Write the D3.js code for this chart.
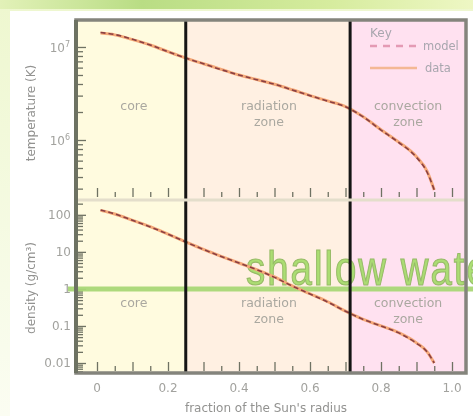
<!DOCTYPE html>
<html><head><meta charset="utf-8">
<script src="https://cdn.jsdelivr.net/npm/d3@7"></script>
<style>
html,body{margin:0;padding:0;background:#fff;}
svg{display:block;font-family:"DejaVu Sans",Verdana,sans-serif;filter:blur(0.5px);}
</style></head>
<body><div id="chart"></div>
<script>
// ---- data ----
const radius      = [0.01, 0.05, 0.1, 0.15, 0.2, 0.25, 0.3, 0.35, 0.4, 0.45, 0.5, 0.55, 0.6, 0.65, 0.7, 0.75, 0.8, 0.85, 0.9, 0.93, 0.95];
const tempData    = [1.41e7, 1.35e7, 1.2e7, 1.05e7, 8.9e6, 7.6e6, 6.6e6, 5.75e6, 5.0e6, 4.47e6, 3.98e6, 3.47e6, 3.0e6, 2.63e6, 2.29e6, 1.78e6, 1.29e6, 9.5e5, 6.6e5, 4.6e5, 2.9e5];
const tempModel   = [1.43e7, 1.36e7, 1.21e7, 1.05e7, 8.9e6, 7.6e6, 6.6e6, 5.7e6, 5.0e6, 4.45e6, 3.98e6, 3.45e6, 3.0e6, 2.62e6, 2.28e6, 1.77e6, 1.28e6, 9.4e5, 6.5e5, 4.5e5, 2.9e5];
const densData    = [132, 105, 71, 48, 30, 18.6, 11.7, 7.6, 5.0, 3.3, 2.1, 1.2, 0.74, 0.45, 0.25, 0.15, 0.10, 0.066, 0.035, 0.020, 0.010];
const densModel   = [135, 106, 71, 47, 30, 18.5, 11.6, 7.5, 5.0, 3.3, 2.05, 1.2, 0.73, 0.44, 0.25, 0.15, 0.10, 0.065, 0.034, 0.020, 0.010];
const zoneBounds  = [0.25, 0.713];
const zoneNames   = [["core"], ["radiation", "zone"], ["convection", "zone"]];
const xTicks      = [0, 0.2, 0.4, 0.6, 0.8, 1.0];
const xTickLabels = ["0", "0.2", "0.4", "0.6", "0.8", "1.0"];
const tempTicks   = [1e6, 1e7];
const tempLabels  = [["10","6"], ["10","7"]];
const densTicks   = [0.01, 0.1, 1, 10, 100];
const densLabels  = ["0.01", "0.1", "1", "10", "100"];
const legendItems = ["model", "data"];

(function(){
const W = 473, H = 416;
const svg = d3.select("#chart").append("svg").attr("width", W).attr("height", H);

const defs = svg.append("defs");
const g1 = defs.append("linearGradient").attr("id","band").attr("x1","0").attr("x2","1");
g1.append("stop").attr("offset","0").attr("stop-color","#e2f1b8");
g1.append("stop").attr("offset","0.3").attr("stop-color","#b9dd84");
g1.append("stop").attr("offset","0.7").attr("stop-color","#d6ec9e");
g1.append("stop").attr("offset","1").attr("stop-color","#eef7c4");
const g2 = defs.append("linearGradient").attr("id","side").attr("x1","0").attr("x2","0").attr("y1","0").attr("y2","1");
g2.append("stop").attr("offset","0").attr("stop-color","#eef7cf");
g2.append("stop").attr("offset","1").attr("stop-color","#fbfdf2");
svg.append("rect").attr("width",W).attr("height",H).attr("fill","url(#side)");
svg.append("rect").attr("width",W).attr("height",9).attr("fill","url(#band)");
svg.append("rect").attr("x",10).attr("y",11).attr("width",W-10).attr("height",H-11).attr("fill","#ffffff");

const pL = 76, pR = 466, pT = 20, pM = 200, pB = 373;
const x = d3.scaleLinear().domain([0, 1]).range([97, 452]);
const yT = d3.scaleLog().domain([Math.pow(10,5.355), Math.pow(10,7.29)]).range([pM, pT]);
const yD = d3.scaleLog().domain([Math.pow(10,-2.27), Math.pow(10,2.4)]).range([pB, pM]);

const zoneColors = ["#fffbdf", "#fff0e2", "#ffe1f0"];
const edges = [pL, x(zoneBounds[0]), x(zoneBounds[1]), pR];
zoneColors.forEach((c,i)=>{
  svg.append("rect").attr("x",edges[i]).attr("y",pT).attr("width",edges[i+1]-edges[i]).attr("height",pB-pT).attr("fill",c);
});

const axisColor = "#6f7263";
function styleAxis(g){
  g.select(".domain").remove();
  g.selectAll("line").attr("stroke",axisColor).attr("stroke-width",1.3);
  g.selectAll("text").remove();
}
const tMinor = yT.ticks();
svg.append("g").attr("transform",`translate(${pL+2},0)`)
  .call(d3.axisRight(yT).tickValues(tMinor).tickSize(5)).call(styleAxis)
  .selectAll(".tick line").attr("x2", d => tempTicks.some(t=>Math.abs(t-d)<1) ? 8 : 5);
const dMinor = yD.ticks();
svg.append("g").attr("transform",`translate(${pL+2},0)`)
  .call(d3.axisRight(yD).tickValues(dMinor).tickSize(5)).call(styleAxis)
  .selectAll(".tick line").attr("x2", d => densTicks.some(t=>Math.abs(t-d)<1e-9) ? 8 : 5);

const xMinor = d3.range(0, 21).map(i => i*0.05);
[pM-3, pB-2].forEach(yy=>{
  svg.append("g").attr("transform",`translate(0,${yy})`)
    .call(d3.axisTop(x).tickValues(xMinor).tickSize(6)).call(styleAxis)
    .selectAll(".tick line").attr("y2", (d,i) => i%2===0 ? -9 : -5);
});

svg.append("line").attr("x1",pL-8).attr("x2",W).attr("y1",yD(1)).attr("y2",yD(1))
  .attr("stroke","#a9d877").attr("stroke-width",5).attr("opacity",0.95);

const lab = "#a2a29e";
const tl = svg.append("g").selectAll("text").data(tempTicks).join("text")
  .attr("x",pL-6).attr("y",d=>yT(d)+5).attr("text-anchor","end")
  .attr("font-size",12).attr("fill",lab);
tl.append("tspan").text((d,i)=>tempLabels[i][0]);
tl.append("tspan").attr("dy",-5).attr("font-size",8).text((d,i)=>tempLabels[i][1]);
svg.append("g").selectAll("text").data(densTicks).join("text")
  .attr("x",pL-5).attr("y",d=>yD(d)+4.5).attr("text-anchor","end")
  .attr("font-size",12).attr("fill",lab).text((d,i)=>densLabels[i]);
svg.append("g").selectAll("text").data(xTicks).join("text")
  .attr("x",d=>x(d)).attr("y",392).attr("text-anchor","middle")
  .attr("font-size",12).attr("fill",lab).text((d,i)=>xTickLabels[i]);

svg.append("text").attr("transform",`translate(35,113) rotate(-90)`)
  .attr("text-anchor","middle").attr("font-size",12).attr("fill","#929290").text("temperature (K)");
svg.append("text").attr("transform",`translate(35,288) rotate(-90)`)
  .attr("text-anchor","middle").attr("font-size",12).attr("fill","#929290").text("density (g/cm³)");
svg.append("text").attr("x",266).attr("y",412).attr("text-anchor","middle")
  .attr("font-size",12).attr("fill","#929290").text("fraction of the Sun's radius");

const zoneCenters = [(edges[0]+edges[1])/2+3, (edges[1]+edges[2])/2+1, (edges[2]+edges[3])/2];
[[110,126],[307,323]].forEach(ys=>{
  zoneNames.forEach((nm,i)=>{
    nm.forEach((w,j)=>{
      svg.append("text").attr("x",zoneCenters[i]).attr("y",ys[j]).attr("text-anchor","middle")
        .attr("font-size",12.5).attr("fill","#aaa8a0").text(w);
    });
  });
});

svg.append("text").attr("transform","translate(246,285) scale(0.8,1)")
  .attr("font-family","'Liberation Sans',Arial,sans-serif").attr("font-size",48)
  .attr("letter-spacing",2.5)
  .attr("fill","#a2dc66").attr("stroke","#8cb65a").attr("stroke-width",1.2)
  .attr("opacity",0.9).text("shallow water");

const pts = radius.map((r,i)=>i);
function curve(yScale, arr){
  return d3.line().x(i=>x(radius[i])).y(i=>yScale(arr[i])).curve(d3.curveMonotoneX)(pts);
}
svg.append("path").attr("d", curve(yT,tempData)).attr("fill","none").attr("stroke","#f4a878").attr("stroke-width",3);
svg.append("path").attr("d", curve(yT,tempModel)).attr("fill","none").attr("stroke","#8a3f42").attr("stroke-width",1.6).attr("stroke-dasharray","5,3");
svg.append("path").attr("d", curve(yD,densData)).attr("fill","none").attr("stroke","#f4a878").attr("stroke-width",3);
svg.append("path").attr("d", curve(yD,densModel)).attr("fill","none").attr("stroke","#8a3f42").attr("stroke-width",1.6).attr("stroke-dasharray","5,3");

zoneBounds.forEach(b=>{
  svg.append("line").attr("x1",x(b)).attr("x2",x(b)).attr("y1",pT).attr("y2",pB)
    .attr("stroke","#151515").attr("stroke-width",3);
});

svg.append("line").attr("x1",pL).attr("x2",pR).attr("y1",pM).attr("y2",pM)
  .attr("stroke","#e4decb").attr("stroke-width",3);

svg.append("rect").attr("x",pL).attr("y",pT).attr("width",pR-pL).attr("height",pB-pT)
  .attr("fill","none").attr("stroke","#84847c").attr("stroke-width",3.5);
svg.append("line").attr("x1",pL).attr("x2",pL).attr("y1",pT).attr("y2",pB)
  .attr("stroke","#6d7262").attr("stroke-width",4);

svg.append("text").attr("x",370).attr("y",37).attr("font-size",12).attr("fill","#a8a6ae").text("Key");
svg.append("line").attr("x1",370).attr("x2",417).attr("y1",46).attr("y2",46)
  .attr("stroke","#e49ab4").attr("stroke-width",2.5).attr("stroke-dasharray","7,6");
svg.append("text").attr("x",423).attr("y",50).attr("font-size",11.5).attr("fill","#a8a6ae").text(legendItems[0]);
svg.append("line").attr("x1",370).attr("x2",417).attr("y1",68).attr("y2",68)
  .attr("stroke","#f4b894").attr("stroke-width",2.5);
svg.append("text").attr("x",425).attr("y",72).attr("font-size",11.5).attr("fill","#a8a6ae").text(legendItems[1]);
})();
</script>
</body></html>
